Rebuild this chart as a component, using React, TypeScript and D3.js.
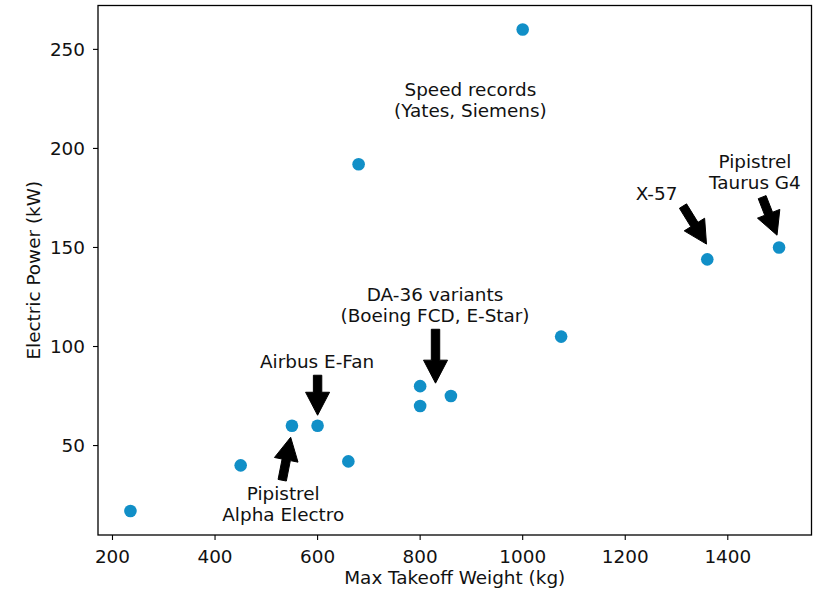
import React from "react";
import * as d3 from "d3";

const weights = [235, 450, 550, 600, 660, 680, 800, 800, 860, 1000, 1075, 1360, 1500];
const powers = [17, 40, 60, 60, 42, 192, 80, 70, 75, 260, 105, 144, 150];

const xTicks = [200, 400, 600, 800, 1000, 1200, 1400];
const yTicks = [50, 100, 150, 200, 250];

const labelLines = [
  ["Speed records", "(Yates, Siemens)"],
  ["X-57"],
  ["Pipistrel", "Taurus G4"],
  ["DA-36 variants", "(Boeing FCD, E-Star)"],
  ["Airbus E-Fan"],
  ["Pipistrel", "Alpha Electro"],
];
const labelX = [898, 1261, 1453, 829, 599, 533];
const labelY = [226.4, 173.9, 190.1, 122.9, 89, 22.4];

// arrows: tail -> tip, data coords (null for labels without arrow)
const arrowTailX = [null, 1312.6, 1467, 830, 600, 531];
const arrowTailY = [null, 170.9, 175.4, 108.7, 85.5, 32.5];
const arrowTipX = [null, 1358.5, 1496, 830, 600, 547.5];
const arrowTipY = [null, 151.7, 156.2, 81.5, 65.3, 54.2];

const W = 816;
const H = 594;
const left = 98;
const right = 811.5;
const top = 5.5;
const bottom = 535;
const FONT = "DejaVu Sans";
const FS = 18.4;

function arrowPath(x1: number, y1: number, x2: number, y2: number) {
  const dx = x2 - x1;
  const dy = y2 - y1;
  const len = Math.hypot(dx, dy);
  const ux = dx / len;
  const uy = dy / len;
  const px = -uy;
  const py = ux;
  const sw = 4.2;
  const hw = 12;
  const hl = 23;
  const bx = x2 - ux * hl;
  const by = y2 - uy * hl;
  const pts: [number, number][] = [
    [x1 + px * sw, y1 + py * sw],
    [bx + px * sw, by + py * sw],
    [bx + px * hw, by + py * hw],
    [x2, y2],
    [bx - px * hw, by - py * hw],
    [bx - px * sw, by - py * sw],
    [x1 - px * sw, y1 - py * sw],
  ];
  return "M" + pts.map((p) => p[0].toFixed(2) + "," + p[1].toFixed(2)).join("L") + "Z";
}

export default function App() {
  const xMin = d3.min(weights)!;
  const xMax = d3.max(weights)!;
  const yMin = d3.min(powers)!;
  const yMax = d3.max(powers)!;
  const xm = (xMax - xMin) * 0.05;
  const ym = (yMax - yMin) * 0.05;
  const x = d3.scaleLinear().domain([xMin - xm, xMax + xm]).range([left, right]);
  const y = d3.scaleLinear().domain([yMin - ym, yMax + ym]).range([bottom, top]);

  return (
    <svg
      width={W}
      height={H}
      style={{ position: "absolute", left: 0, top: 0, background: "#fff" }}
      fontFamily={FONT}
    >
      <rect x={0} y={0} width={W} height={H} fill="#fff" />
      {weights.map((w, i) => (
        <circle key={i} cx={x(w)} cy={y(powers[i])} r={6.3} fill="#118fc7" />
      ))}
      {labelLines.map((lines, i) => (
        <g key={"a" + i}>
          {arrowTailX[i] !== null && (
            <path
              d={arrowPath(
                x(arrowTailX[i] as number),
                y(arrowTailY[i] as number),
                x(arrowTipX[i] as number),
                y(arrowTipY[i] as number)
              )}
              fill="#000"
              stroke="#000"
              strokeWidth={1}
              strokeLinejoin="miter"
            />
          )}
          <text x={x(labelX[i])} y={y(labelY[i])} fontSize={FS} textAnchor="middle" fill="#111">
            {lines.map((l, j) => (
              <tspan key={j} x={x(labelX[i])} dy={j === 0 ? 0 : 20.8}>
                {l}
              </tspan>
            ))}
          </text>
        </g>
      ))}
      <rect
        x={left}
        y={top}
        width={right - left}
        height={bottom - top}
        fill="none"
        stroke="#000"
        strokeWidth={1.3}
      />
      {xTicks.map((t) => (
        <g key={"x" + t}>
          <line x1={x(t)} x2={x(t)} y1={bottom} y2={bottom + 5} stroke="#000" strokeWidth={1.1} />
          <text x={x(t)} y={563} fontSize={FS} textAnchor="middle" fill="#111">
            {t}
          </text>
        </g>
      ))}
      {yTicks.map((t) => (
        <g key={"y" + t}>
          <line x1={left - 5} x2={left} y1={y(t)} y2={y(t)} stroke="#000" strokeWidth={1.1} />
          <text x={85} y={y(t)} dy="0.36em" fontSize={FS} textAnchor="end" fill="#111">
            {t}
          </text>
        </g>
      ))}
      <text x={(left + right) / 2} y={584} fontSize={FS} textAnchor="middle" fill="#111">
        Max Takeoff Weight (kg)
      </text>
      <text
        transform={`translate(39.5, ${(top + bottom) / 2}) rotate(-90)`}
        fontSize={FS}
        textAnchor="middle"
        fill="#111"
      >
        Electric Power (kW)
      </text>
    </svg>
  );
}
